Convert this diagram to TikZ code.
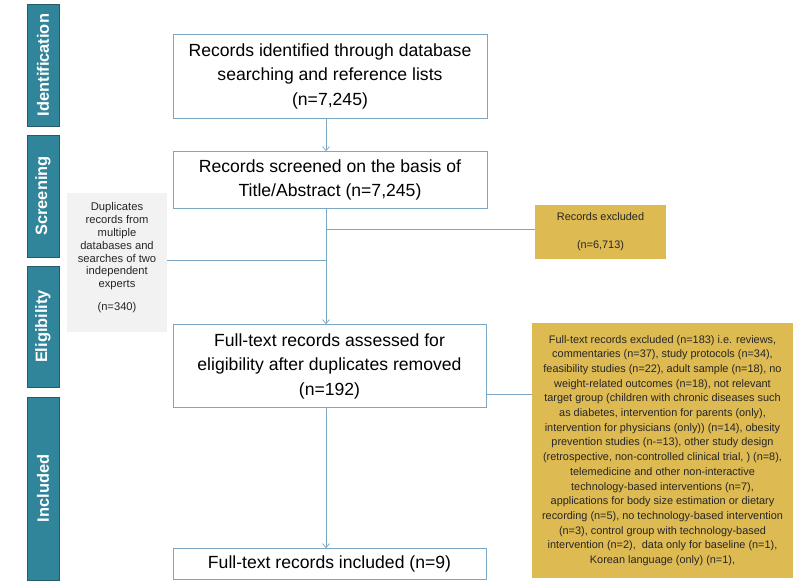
\documentclass[tikz,border=0pt]{standalone}
\usepackage{fontspec}
\setmainfont{Liberation Sans}
\usetikzlibrary{arrows.meta}
\definecolor{teal}{RGB}{49,133,155}
\definecolor{tealdark}{RGB}{38,90,105}
\definecolor{linec}{RGB}{125,166,196}
\definecolor{gold}{RGB}{222,186,82}
\definecolor{greyb}{RGB}{242,242,242}
\tikzset{
  phase/.style={draw=tealdark, fill=teal, line width=0.8pt, text=white, font=\bfseries\fontsize{16.4}{19}\selectfont, rotate=90, inner sep=0pt},
  mainbox/.style={draw=linec, line width=0.8pt, fill=white, font=\fontsize{17.6}{24.5}\selectfont, align=center, inner sep=0pt},
  goldbox/.style={fill=gold, text=black!85, align=center, inner sep=0pt},
  greybox/.style={fill=greyb, minimum width=100pt, minimum height=139pt},
  conn/.style={draw=linec, line width=0.8pt},
  arr/.style={conn, -{Straight Barb[length=4pt,width=7pt,line width=0.7pt]}}
}
\begin{document}
\begin{tikzpicture}[x=1pt,y=-1pt]
\useasboundingbox (0,0) rectangle (800,585);
% phase bars
\node[phase, minimum width=122pt, minimum height=32pt] (pid) at (43,65) {Identification};
\node[phase, minimum width=122pt, minimum height=32pt] (psc) at (43,196) {Screening};
\node[phase, minimum width=121pt, minimum height=32pt] (pel) at (43,326.5) {Eligibility};
\node[phase, minimum width=183pt, minimum height=32pt] (pin) at (43,488.5) {Included};
% main boxes
\node[mainbox, minimum width=314pt, minimum height=84pt] (b1) at (330,76) {Records identified through database\\searching and reference lists\\(n=7,245)};
\node[mainbox, minimum width=314pt, minimum height=57pt] (b2) at (330,180) {Records screened on the basis of\\Title/Abstract (n=7,245)};
\node[mainbox, minimum width=313pt, minimum height=83pt] (b3) at (329.5,366) {Full-text records assessed for\\eligibility after duplicates removed\\(n=192)};
\node[mainbox, minimum width=313pt, minimum height=31pt] (b4) at (329.5,564) {Full-text records included (n=9)};
% side boxes
\node[greybox] (dup) at (117,262.5) {};
\node[anchor=north, align=center, inner sep=0pt, text=black!85, font=\fontsize{11.2}{12.8}\selectfont] (duptext) at (117,202.5) {Duplicates\\records from\\multiple\\databases and\\searches of two\\independent\\experts\\[10pt](n=340)};
\node[goldbox, minimum width=131pt, minimum height=54pt, font=\fontsize{10.9}{14}\selectfont] (rex) at (600.5,232) {Records excluded\\[14pt](n=6,713)};
\node[goldbox, minimum width=261pt, minimum height=255pt, font=\fontsize{10.9}{14.7}\selectfont] (fex) at (662.5,450.5) {Full-text records excluded (n=183) i.e. reviews,\\commentaries (n=37), study protocols (n=34),\\feasibility studies (n=22), adult sample (n=18), no\\weight-related outcomes (n=18), not relevant\\target group (children with chronic diseases such\\as diabetes, intervention for parents (only),\\intervention for physicians (only)) (n=14), obesity\\prevention studies (n-=13), other study design\\(retrospective, non-controlled clinical trial, ) (n=8),\\telemedicine and other non-interactive\\technology-based interventions (n=7),\\applications for body size estimation or dietary\\recording (n=5), no technology-based intervention\\(n=3), control group with technology-based\\intervention (n=2),\ \ data only for baseline (n=1),\\Korean language (only) (n=1),};
% connectors
\coordinate (j1) at (326,229);
\coordinate (j2) at (326,260);
\draw[arr] (b1.south -| 326,0) -- (b2.north -| 326,0);
\draw[arr] (b2.south -| 326,0) -- (b3.north -| 326,0);
\draw[arr] (b3.south -| 326,0) -- (b4.north -| 326,0);
\draw[conn] (j1) -- (rex.west |- j1);
\draw[conn] (dup.east |- j2) -- (j2);
\draw[conn] (b3.east |- 0,394) -- (fex.west |- 0,394);
\end{tikzpicture}
\end{document}
